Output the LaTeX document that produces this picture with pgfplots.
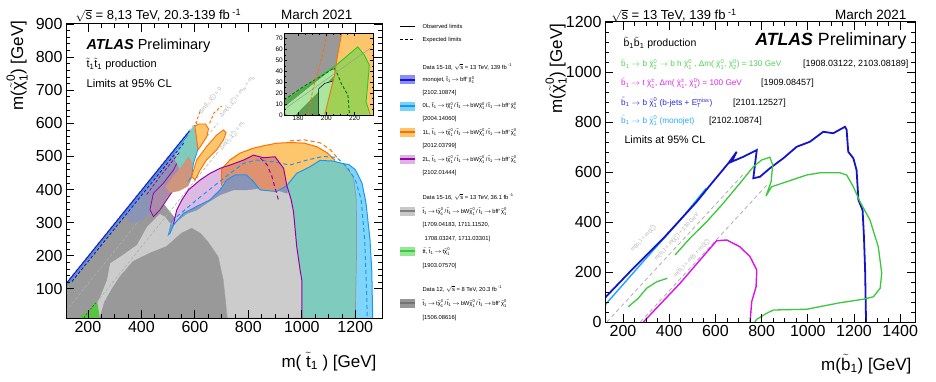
\documentclass[border=0pt]{standalone}
\usepackage{fontspec}
\setmainfont{Liberation Sans}
\usepackage{amsmath}
\usepackage{pgfplots}
\pgfplotsset{compat=1.18}

\definecolor{cDG}{RGB}{153,153,153}
\definecolor{cLG}{RGB}{204,204,204}
\definecolor{cBG}{RGB}{138,148,182}
\definecolor{cPink}{RGB}{222,186,226}
\definecolor{cBrown}{RGB}{224,146,112}
\definecolor{cLO}{RGB}{253,198,108}
\definecolor{cTeal}{RGB}{127,203,190}
\definecolor{cLC}{RGB}{128,214,250}
\definecolor{cMauve}{RGB}{168,140,170}
\definecolor{cBrownB}{RGB}{205,150,125}
\definecolor{cLB}{RGB}{160,180,232}
\definecolor{cGreenF}{RGB}{90,195,70}
\definecolor{lOrange}{RGB}{255,110,0}
\definecolor{lCyan}{RGB}{25,150,245}
\definecolor{lPurple}{RGB}{150,0,170}
\definecolor{lBlue}{RGB}{20,20,210}
\definecolor{lGray}{RGB}{150,150,150}
\definecolor{refGray}{RGB}{175,175,175}
\definecolor{dGreen}{RGB}{0,120,0}
\definecolor{rBlue}{RGB}{20,20,200}
\definecolor{rLBlue}{RGB}{30,165,250}
\definecolor{rGreen}{RGB}{60,200,60}
\definecolor{rMag}{RGB}{215,20,235}
\definecolor{tGreen}{RGB}{80,210,80}
\definecolor{tMag}{RGB}{220,40,235}
\definecolor{tBlue}{RGB}{40,40,220}
\definecolor{tLBlue}{RGB}{40,170,250}
\definecolor{iYG}{RGB}{160,208,85}
\definecolor{iDG}{RGB}{95,160,85}
\definecolor{iLG}{RGB}{170,230,160}
\definecolor{iGreen}{RGB}{40,200,40}
\definecolor{iOr}{RGB}{230,120,20}
\definecolor{sMono}{RGB}{140,140,250}
\definecolor{sZero}{RGB}{120,210,250}
\definecolor{sTwo}{RGB}{220,180,225}
\definecolor{sGray}{RGB}{200,200,200}
\definecolor{sGreen}{RGB}{150,230,150}
\definecolor{sDG}{RGB}{150,150,150}

\newcommand{\tx}[1]{\text{#1}}
\newcommand{\chio}{\ensuremath{\tilde{\tx{χ}}^{\tx{0}}_{\tx{1}}}}
\newcommand{\chitwo}{\ensuremath{\tilde{\tx{χ}}^{\tx{0}}_{\tx{2}}}}
\newcommand{\chipm}{\ensuremath{\tilde{\tx{χ}}^{\tx{±}}_{\tx{1}}}}
\newcommand{\stp}{\ensuremath{\tilde{\tx{t}}_{\tx{1}}}}
\newcommand{\sbt}{\ensuremath{\tilde{\tx{b}}_{\tx{1}}}}
\newcommand{\ra}{\ensuremath{\rightarrow}}
\newcommand{\rs}{\ensuremath{\sqrt{\tx{s}}}}
\newcommand{\lgf}{\fontsize{5.8}{6}\selectfont}
\newcommand{\rf}{\fontsize{9}{10}\selectfont}
\newcommand{\rfc}{\fontsize{8.2}{9}\selectfont}
\newcommand{\decay}{\stp\,\ra\,t\chio\,/\,\stp\,\ra\,bW\chio\,/\,\stp\,\ra\,bff'\,\chio}

\pgfplotsset{atlas/.style={scale only axis, axis on top, tick align=inside,
  major tick length=8pt, minor tick length=4pt,
  every tick/.append style={black, line width=0.8pt},
  axis line style={line width=1pt},
  ticklabel style={font=\fontsize{16}{16}\selectfont},
  /pgf/number format/assume math mode=true,
  /pgf/number format/1000 sep={}}}

\begin{document}
\begin{tikzpicture}
\useasboundingbox (0pt,0pt) rectangle (936pt,381pt);

% ================= LEFT PANEL =================
\begin{axis}[atlas, at={(66pt,63pt)}, anchor=south west, width=316pt, height=294pt,
  xmin=118, xmax=1300, ymin=12, ymax=900,
  xtick={200,400,...,1200}, ytick={100,200,...,900},
  minor x tick num=3, minor y tick num=4]
% 8 TeV
\addplot[fill=cDG, draw=none] coordinates {(118,12) (118,115) (330,327) (420,380) (480,360) (540,300) (589,284) (620,268) (649,242) (687,197) (706,127) (715,60) (721,12)} -- cycle;
% 36.1 fb-1
\addplot[fill=cLG, draw=lGray, line width=0.5pt] coordinates {(219,12) (222,37) (245,77) (270,127) (282,178) (320,198) (382,233) (420,288) (469,328) (490,318) (507,300) (538,308) (570,328) (607,338) (644,359) (694,384) (744,399) (794,399) (844,404) (906,399) (944,389) (960,400) (981,440) (1031,465) (1068,485) (1118,484) (1156,476) (1193,437) (1204,369) (1205,218) (1200,12) (721,12) (715,60) (706,127) (687,197) (649,242) (620,268) (588,283) (550,268) (494,228) (432,208) (369,183) (320,137) (290,100) (262,60) (245,12)} -- cycle;
% reference lines
\addplot[refGray, line width=0.6pt, dash pattern=on 3pt off 2pt] coordinates {(118,118) (605,605)};
\addplot[refGray, line width=0.6pt, dash pattern=on 3pt off 2pt] coordinates {(118,33) (685,600)};
\addplot[refGray, line width=0.6pt, dash pattern=on 3pt off 2pt] coordinates {(185,12) (690,517)};
% ttbar
\addplot[fill=cGreenF, draw=none] coordinates {(170,12) (172,18) (196,27) (234,61) (238,45) (245,12)} -- cycle;
\addplot[dGreen, line width=0.6pt, dash pattern=on 2pt off 1.5pt] coordinates {(185,12) (200,30) (230,58)};
% near-diagonal cluster
\addplot[fill=cBG, draw=none] coordinates {(330,327) (580,577) (575,540) (540,480) (505,440) (470,390) (440,340) (400,305) (360,300)} -- cycle;
\addplot[fill=cMauve, draw=lPurple, line width=0.8pt] coordinates {(432,339) (445,389) (482,419) (520,459) (545,499) (557,510) (570,489) (551,439) (520,399) (495,369) (470,339) (445,318)} -- cycle;
\addplot[fill=cTeal, draw=none] coordinates {(525,522) (560,557) (585,582) (598,594) (614,591) (625,560) (607,510) (595,480) (588,440) (570,430) (545,460) (525,490)} -- cycle;
\addplot[fill=cBrownB, draw=none] coordinates {(490,410) (520,440) (550,470) (575,500) (592,480) (592,440) (575,410) (540,395) (505,390)} -- cycle;
\addplot[lCyan, line width=0.8pt] coordinates {(598,594) (614,591) (625,560) (607,510) (595,480) (588,440) (575,425)};
\addplot[fill=cLB, draw=lCyan, line width=0.6pt] coordinates {(500,262) (512,300) (535,330) (560,350) (578,358) (565,340) (540,320) (520,293) (507,268)} -- cycle;
% middle/right regions
\addplot[fill=cBG, draw=none] coordinates {(505,265) (520,293) (557,328) (607,349) (657,369) (694,399) (719,429) (750,444) (794,444) (819,424) (844,399) (906,394) (944,412) (948,395) (944,389) (906,399) (844,404) (794,399) (744,399) (694,384) (644,359) (607,338) (570,328) (538,308) (507,290)} -- cycle;
\addplot[fill=cPink, draw=none] coordinates {(520,295) (532,338) (551,368) (576,399) (620,429) (657,449) (694,464) (702,466) (700,440) (700,412) (694,399) (657,369) (607,349) (557,328)} -- cycle;
\addplot[fill=cBrown, draw=none] coordinates {(702,466) (732,474) (782,489) (819,504) (857,496) (900,499) (932,464) (944,412) (906,394) (844,399) (819,424) (794,444) (750,444) (719,429) (700,412) (700,440)} -- cycle;
\addplot[fill=cLO, draw=none] coordinates {(700,462) (732,490) (769,510) (819,525) (856,532) (906,540) (960,542) (1010,540) (1057,529) (1095,511) (1125,488) (1118,486) (1068,488) (1031,469) (981,449) (944,412) (932,464) (900,499) (857,496) (819,504) (782,489) (732,474)} -- cycle;
\addplot[fill=cTeal, draw=none] coordinates {(1000,12) (1000,127) (981,228) (969,333) (960,370) (944,412) (981,449) (1031,469) (1068,488) (1118,486) (1156,478) (1193,439) (1204,369) (1205,218) (1200,12)} -- cycle;
\addplot[fill=cLC, draw=none] coordinates {(1200,12) (1205,218) (1204,369) (1193,439) (1156,478) (1175,476) (1200,460) (1225,420) (1240,360) (1255,250) (1262,150) (1265,12)} -- cycle;
\addplot[lGray, line width=0.7pt] coordinates {(1200,12) (1205,218) (1204,369) (1193,439) (1156,478)};
% orange fingers
\addplot[fill=cLO, draw=lOrange, line width=0.9pt] coordinates {(600,592) (615,598) (640,598) (651,583) (645,560) (625,535) (612,520) (608,545)} -- cycle;
\addplot[fill=cLO, draw=lOrange, line width=0.9pt] coordinates {(588,439) (607,490) (644,530) (682,565) (707,580) (717,572) (707,550) (682,520) (644,490) (620,459) (601,429)} -- cycle;
\addplot[lOrange, line width=0.9pt, dash pattern=on 3pt off 2pt] coordinates {(605,598) (612,620) (622,642)};
\addplot[lOrange, line width=0.9pt, dash pattern=on 3pt off 2pt] coordinates {(655,600) (672,632) (700,652)};
% contours
\addplot[lOrange, line width=1pt] coordinates {(700,412) (700,440) (700,462) (732,490) (769,510) (819,525) (856,532) (906,540) (960,542) (1010,540) (1057,529) (1095,511) (1125,488)};
\addplot[lOrange, line width=1pt, dash pattern=on 4pt off 3pt] coordinates {(955,547) (1010,550) (1069,541) (1106,521) (1133,496)};
\addplot[lCyan, line width=1pt] coordinates {(505,265) (520,293) (557,328) (607,349) (657,369) (694,399) (719,429) (750,444) (794,444) (819,424) (844,399) (906,394) (944,412) (981,449) (1031,469) (1068,488) (1118,486) (1156,478) (1175,476) (1200,460) (1225,420) (1240,360) (1255,250) (1262,150) (1265,12)};
\addplot[lCyan, line width=1pt, dash pattern=on 4pt off 3pt] coordinates {(532,318) (607,369) (669,409) (732,449) (782,479) (832,489) (894,484) (956,474) (1019,489) (1080,500) (1130,497) (1168,469) (1200,430) (1222,370) (1235,250) (1242,100) (1245,12)};
\addplot[lPurple, line width=1pt] coordinates {(520,295) (532,338) (551,368) (576,399) (620,429) (657,449) (694,464) (732,474) (782,489) (819,504) (857,496) (900,499) (932,464) (944,412) (960,370) (969,333) (981,228) (995,150) (1000,127) (1000,12)};
\addplot[lPurple, line width=1pt, dash pattern=on 4pt off 3pt] coordinates {(845,495) (870,475) (888,440) (900,405) (912,370)};
\addplot[lPurple, line width=0.8pt, dash pattern=on 3pt off 2pt] coordinates {(420,385) (470,440) (520,490) (545,515)};
% monojet near diagonal
\addplot[lCyan, line width=0.8pt] coordinates {(118,108) (575,565)};
\addplot[lBlue, line width=0.9pt, dash pattern=on 3pt off 2pt] coordinates {(140,122) (560,542)};
\addplot[lBlue, line width=1pt] coordinates {(118,115) (580,577)};
% reference labels
\node[rotate=51, anchor=west, text=refGray, font=\fontsize{5.5}{6}\selectfont] at (axis cs:612,622) {Δm(\stp,\chio) = 0};
\node[rotate=51, anchor=west, text=refGray, font=\fontsize{5.5}{6}\selectfont] at (axis cs:690,612) {Δm(\stp,\chio) = m$_{\tx{W}}$ + m$_{\tx{b}}$};
\node[rotate=51, anchor=west, text=refGray, font=\fontsize{5.5}{6}\selectfont] at (axis cs:690,512) {Δm(\stp,\chio) = m$_{\tx{t}}$};
\end{axis}

% ================= INSET =================
\begin{axis}[scale only axis, axis on top, at={(284pt,266pt)}, anchor=south west,
  width=89pt, height=82pt, xmin=170, xmax=233, ymin=0, ymax=75,
  xtick={180,200,220}, ytick={0,10,...,70}, minor x tick num=3, minor y tick num=1,
  tick align=inside, major tick length=3pt, minor tick length=1.5pt,
  every tick/.append style={black, line width=0.5pt},
  axis line style={line width=0.8pt},
  ticklabel style={font=\fontsize{6.5}{6.5}\selectfont, inner sep=1pt},
  /pgf/number format/assume math mode=true]
\addplot[fill=cDG, draw=none] coordinates {(170,0) (170,75) (233,75) (233,0)} -- cycle;
\addplot[fill=cLO, draw=none] coordinates {(198.8,0) (202.3,18.3) (205.8,36.5) (208,55) (211,76) (233,76) (233,0)} -- cycle;
\addplot[fill=iYG, draw=none] coordinates {(198.8,0) (202.3,18.3) (205.8,36.5) (206.4,44.8) (214,53) (222.2,62.3) (226.9,54.7) (230.4,45.6) (229.2,27.4) (228.1,12.2) (230,0)} -- cycle;
\addplot[fill=iDG, draw=none] coordinates {(170,0) (170,12.2) (188.3,28.9) (205.6,44.3) (205.8,36.5) (202.3,18.3) (198.8,0)} -- cycle;
\addplot[fill=iLG, draw=none] coordinates {(172,0) (170,3) (170,7) (204,42) (205.7,41) (205.5,36) (178,0)} -- cycle;
\addplot[fill=iLG, draw=none] coordinates {(194.5,0) (194.5,24) (198.8,28.9) (204.6,31) (202.3,18.3) (198.8,0)} -- cycle;
\addplot[black, line width=0.5pt] coordinates {(194.5,0) (194.5,24) (198.8,28.9) (204.6,31)};
\addplot[lGray, line width=0.4pt] coordinates {(170,5) (231,61)};
\addplot[iGreen, line width=0.9pt] coordinates {(170,12.2) (188.3,28.9) (207,45.6) (222.2,62.3) (226.9,54.7) (230.4,45.6) (229.2,27.4) (228.1,12.2) (231,0)};
\addplot[dGreen, line width=0.9pt, dash pattern=on 3pt off 2pt] coordinates {(170,13.7) (183.6,25.9) (197.6,36.5) (205.5,43) (207,40) (210.5,28.9) (215.2,18.3) (216.4,0)};
\addplot[iOr, line width=0.9pt] coordinates {(198.8,0) (202.3,18.3) (205.8,36.5) (208,55) (211,76)};
\addplot[lOrange, line width=0.9pt, dash pattern=on 3pt off 2pt] coordinates {(187,0) (190.6,24.3) (195.3,45.6) (198.8,63.9) (201,76)};
\end{axis}

% ================= RIGHT PANEL =================
\begin{axis}[atlas, at={(605pt,59pt)}, anchor=south west, width=310pt, height=300pt,
  xmin=122, xmax=1464, ymin=0, ymax=1200,
  xtick={200,400,...,1400}, ytick={0,200,...,1200},
  minor x tick num=3, minor y tick num=4]
\addplot[refGray, line width=0.8pt, dash pattern=on 4pt off 3pt] coordinates {(130,0) (720,590)};
\addplot[refGray, line width=0.8pt, dash pattern=on 4pt off 3pt] coordinates {(275,0) (830,555)};
\node[rotate=47, text=refGray, font=\fontsize{5.5}{6}\selectfont] at (axis cs:288,335) {m(\sbt) = m(\chio)};
\node[rotate=47, text=refGray, font=\fontsize{5.5}{6}\selectfont] at (axis cs:432,341) {m(\sbt) = m(\chitwo) + 130 GeV};
\node[rotate=47, text=refGray, font=\fontsize{5.5}{6}\selectfont] at (axis cs:497,255) {m(\sbt) = m(t) + m(\chipm)};
\addplot[rLBlue, line width=1.4pt] coordinates {(122,68) (300,255) (450,410) (560,535)};
\addplot[rBlue, line width=1.8pt] coordinates {(122,97) (230,201) (302,268) (375,335) (447,408) (519,481) (584,555) (620,595) (656,635) (692,681) (670,641) (721,661) (779,688) (764,575) (793,581) (836,615) (894,655) (952,701) (1009,721) (1067,761) (1110,755) (1161,781) (1168,768) (1175,681) (1197,655) (1211,608) (1219,488) (1237,448) (1243,341) (1248,208) (1252,0)};
\addplot[rGreen, line width=1.3pt] coordinates {(223,61) (266,95) (302,135) (346,161) (392,175)};
\addplot[rGreen, line width=1.3pt] coordinates {(425,268) (490,335) (562,401) (634,475) (706,555) (764,621) (800,648) (836,659) (848,628) (841,561) (819,504) (843,541) (908,561) (995,588) (1053,597) (1139,597) (1168,588) (1197,541) (1226,481) (1269,408) (1305,301) (1320,195) (1313,135) (1284,101) (1240,91) (1139,77) (995,51) (851,48) (822,35) (779,11) (771,0)};
\addplot[rMag, line width=1.4pt] coordinates {(288,0) (447,155) (605,325) (649,328) (706,301) (750,261) (779,208) (776,141) (757,81) (750,0)};
\end{axis}

% ================= TEXTS =================
\node[anchor=base west, font=\fontsize{13}{14}\selectfont] at (72pt,361pt) {\rs\ = 8,13 TeV, 20.3-139 fb$^{\tx{ -1}}$};
\node[anchor=base east, font=\fontsize{13.5}{14}\selectfont] at (356pt,361pt) {March 2021};
\node[anchor=base west, font=\fontsize{13}{14}\selectfont] at (608pt,361pt) {\rs\ = 13 TeV, 139 fb$^{\tx{ -1}}$};
\node[anchor=base east, font=\fontsize{13.5}{14}\selectfont] at (910pt,361pt) {March 2021};

\node[anchor=base west, font=\fontsize{14.5}{15}\selectfont] at (83pt,331.5pt) {\textbf{\textit{ATLAS}} Preliminary};
\node[anchor=base west, font=\fontsize{11}{12}\selectfont] at (83pt,313pt) {\stp\stp\ production};
\node[anchor=base west, font=\fontsize{11.3}{12}\selectfont] at (83pt,294pt) {Limits at 95\% CL};

\node[rotate=90, anchor=east, font=\fontsize{17}{17}\selectfont] at (17pt,364pt) {m(\chio) [GeV]};
\node[anchor=base east, font=\fontsize{17}{17}\selectfont] at (380pt,14pt) {m( \stp\ ) [GeV]};
\node[rotate=90, anchor=east, font=\fontsize{17}{17}\selectfont] at (556pt,361pt) {m(\chio) [GeV]};
\node[anchor=base east, font=\fontsize{17}{17}\selectfont] at (915pt,11pt) {m(\sbt) [GeV]};

% right panel labels
\node[anchor=base east, font=\fontsize{17.7}{18}\selectfont] at (910pt,335pt) {\textbf{\textit{ATLAS}} Preliminary};
\node[anchor=base west, font=\fontsize{10.5}{11}\selectfont] at (620pt,334pt) {\sbt\sbt\ production};
\node[anchor=base west, text=tGreen, font=\rfc, inner sep=0pt] at (621pt,314pt) {\sbt\ \ra\ b \chitwo\ \ra\ b h \chio\ , Δm( \chio, \chitwo) = 130 GeV};
\node[anchor=base west, font=\rf, inner sep=0pt] at (803pt,314pt) {[1908.03122, 2103.08189]};
\node[anchor=base west, text=tMag, font=\rfc, inner sep=0pt] at (621pt,295pt) {\sbt\ \ra\ t \chipm, Δm( \chipm, \chio) = 100 GeV};
\node[anchor=base west, font=\rf, inner sep=0pt] at (761pt,295pt) {[1909.08457]};
\node[anchor=base west, text=tBlue, font=\rfc, inner sep=0pt] at (621pt,276pt) {\sbt\ \ra\ b \chio\ (b-jets + E$^{\tx{miss}}_{\tx{T}}$)};
\node[anchor=base west, font=\rf, inner sep=0pt] at (733pt,276pt) {[2101.12527]};
\node[anchor=base west, text=tLBlue, font=\rfc, inner sep=0pt] at (621pt,258pt) {\sbt\ \ra\ b \chio\ (monojet)};
\node[anchor=base west, font=\rf, inner sep=0pt] at (709pt,258pt) {[2102.10874]};
\node[anchor=base west, font=\fontsize{10.7}{11}\selectfont] at (621pt,238pt) {Limits at 95\% CL};

% left legend
\draw[line width=1pt] (400pt,354pt) -- (415pt,354pt);
\node[anchor=base west, font=\lgf] at (419pt,352pt) {Observed limits};
\draw[line width=1pt, dash pattern=on 3pt off 2pt] (400pt,341pt) -- (415pt,341pt);
\node[anchor=base west, font=\lgf] at (419pt,339pt) {Expected limits};
\node[anchor=base west, font=\lgf] at (419pt,312pt) {Data 15-18, \rs\ = 13 TeV, 139 fb$^{\tx{ -1}}$};
\fill[sMono] (400pt,296.5pt) rectangle (415pt,305.5pt); \draw[lBlue, line width=1.5pt] (400pt,301pt) -- (415pt,301pt);
\node[anchor=base west, font=\lgf] at (419pt,299pt) {monojet, \stp\,\ra\,bff'\,\chio};
\node[anchor=base west, font=\lgf] at (419pt,287pt) {[2102.10874]};
\fill[sZero] (400pt,270.5pt) rectangle (415pt,279.5pt); \draw[lCyan, line width=1.5pt] (400pt,275pt) -- (415pt,275pt);
\node[anchor=base west, font=\lgf] at (419pt,273pt) {0L, \decay};
\node[anchor=base west, font=\lgf] at (419pt,261pt) {[2004.14060]};
\fill[cLO] (400pt,244.5pt) rectangle (415pt,253.5pt); \draw[lOrange, line width=1.5pt] (400pt,249pt) -- (415pt,249pt);
\node[anchor=base west, font=\lgf] at (419pt,247pt) {1L, \decay};
\node[anchor=base west, font=\lgf] at (419pt,234pt) {[2012.03799]};
\fill[sTwo] (400pt,217.5pt) rectangle (415pt,226.5pt); \draw[lPurple, line width=1.5pt] (400pt,222pt) -- (415pt,222pt);
\node[anchor=base west, font=\lgf] at (419pt,220pt) {2L, \decay};
\node[anchor=base west, font=\lgf] at (419pt,207pt) {[2102.01444]};
\node[anchor=base west, font=\lgf] at (419pt,182pt) {Data 15-16, \rs\ = 13 TeV, 36.1 fb$^{\tx{ -1}}$};
\fill[sGray] (400pt,165.5pt) rectangle (415pt,174.5pt); \draw[gray, line width=1.2pt] (400pt,170pt) -- (415pt,170pt);
\node[anchor=base west, font=\lgf] at (419pt,168pt) {\decay};
\node[anchor=base west, font=\lgf] at (419pt,155pt) {[1709.04183, 1711.11520,};
\node[anchor=base west, font=\lgf] at (421pt,141pt) {1708.03247, 1711.03301]};
\fill[sGreen] (400pt,125.5pt) rectangle (415pt,134.5pt); \draw[rGreen, line width=1.5pt] (400pt,130pt) -- (415pt,130pt);
\node[anchor=base west, font=\lgf] at (419pt,128pt) {t$\bar{\tx{t}}$, \stp\,\ra\,t\chio};
\node[anchor=base west, font=\lgf] at (419pt,114pt) {[1903.07570]};
\node[anchor=base west, font=\lgf] at (419pt,90pt) {Data 12, \rs\ = 8 TeV, 20.3 fb$^{\tx{ -1}}$};
\fill[sDG] (400pt,73.5pt) rectangle (415pt,82.5pt); \draw[black!55, line width=1.5pt] (400pt,78pt) -- (415pt,78pt);
\node[anchor=base west, font=\lgf] at (419pt,76pt) {\decay};
\node[anchor=base west, font=\lgf] at (419pt,62pt) {[1506.08616]};
\end{tikzpicture}
\end{document}
